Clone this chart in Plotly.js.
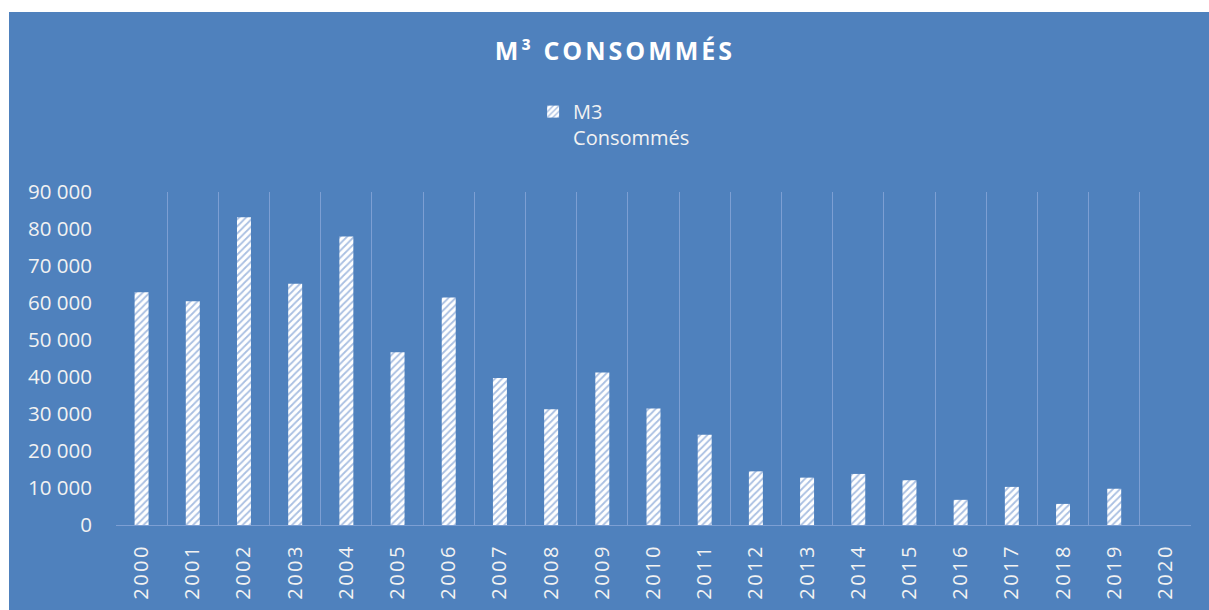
<!DOCTYPE html>
<html>
<head>
<meta charset="utf-8">
<script src="https://cdn.plot.ly/plotly-3.0.1.min.js"></script>
<style>
  html, body { margin: 0; padding: 0; background: #ffffff; width: 1209px; height: 610px; overflow: hidden; }
  #chart { position: absolute; left: 9px; top: 12px; width: 1200px; height: 598px; }
  #chart .xtick text { letter-spacing: 2.5px; }
  #chart .gtitle { letter-spacing: 3px; }
</style>
</head>
<body>
<div id="chart"></div>
<script>
// Data
const years = ['2000','2001','2002','2003','2004','2005','2006','2007','2008','2009','2010',
               '2011','2012','2013','2014','2015','2016','2017','2018','2019','2020'];
const m3Consommes = [62900, 60500, 83200, 65200, 78000, 46700, 61500, 39700, 31300, 41200, 31500,
                     24400, 14500, 12800, 13800, 12100, 6800, 10300, 5700, 9800, null];
const seriesName = 'M3<br>Consommés';
const chartTitle = 'M³ CONSOMMÉS';
const yTicks = [0, 10000, 20000, 30000, 40000, 50000, 60000, 70000, 80000, 90000];

const BG = '#4f81bd';
const GRID = '#7d9fd3';
const TEXT = '#f2f2f2';
const FONT = '"Open Sans", "Noto Sans", sans-serif';

const trace = {
  type: 'bar',
  x: years,
  y: m3Consommes,
  name: seriesName,
  showlegend: true,
  marker: {
    color: '#ffffff',
    line: { width: 0 },
    pattern: { shape: '/', fgcolor: '#a9bfe2', bgcolor: '#ffffff', size: 5, solidity: 0.35, fillmode: 'replace' }
  },
  hoverinfo: 'x+y'
};

const layout = {
  width: 1200,
  height: 598,
  paper_bgcolor: BG,
  plot_bgcolor: BG,
  separators: ', ',
  font: { family: FONT, color: TEXT, size: 20 },
  margin: { l: 107, r: 18, t: 180, b: 85, pad: 0 },
  bargap: 0.727,
  title: {
    text: '<b>' + chartTitle + '</b>',
    font: { family: FONT, size: 25, color: '#ffffff' },
    x: 0.505, xref: 'container', xanchor: 'center',
    y: 0.935, yref: 'container', yanchor: 'middle'
  },
  legend: {
    orientation: 'v',
    x: 0.388, xanchor: 'left',
    y: 1.30, yanchor: 'top',
    valign: 'top',
    bgcolor: 'rgba(0,0,0,0)',
    font: { family: FONT, size: 20, color: TEXT },
    itemwidth: 30
  },
  xaxis: {
    type: 'category',
    tickangle: -90,
    tickson: 'boundaries',
    showgrid: true,
    gridcolor: GRID,
    gridwidth: 1,
    showline: true,
    linecolor: GRID,
    linewidth: 1,
    ticks: '',
    ticklabelstandoff: 10,
    tickfont: { family: FONT, size: 20, color: TEXT },
    zeroline: false,
    fixedrange: true
  },
  yaxis: {
    range: [0, 90000],
    tickvals: yTicks,
    tickformat: ',.0f',
    showgrid: false,
    zeroline: false,
    showline: false,
    ticks: '',
    ticklabelstandoff: 23,
    tickfont: { family: FONT, size: 20.5, color: TEXT },
    fixedrange: true
  }
};

Plotly.newPlot('chart', [trace], layout, { displayModeBar: false, staticPlot: true });
</script>
</body>
</html>
